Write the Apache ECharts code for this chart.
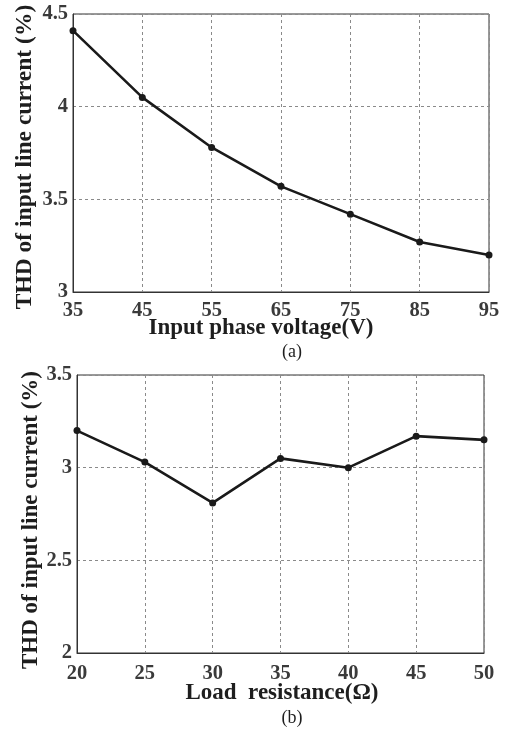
<!DOCTYPE html>
<html>
<head>
<meta charset="utf-8">
<script src="https://cdn.jsdelivr.net/npm/echarts@6/dist/echarts.min.js"></script>
<style>
  html, body { margin: 0; padding: 0; background: #fff; }
  #chart { width: 508px; height: 730px; }
</style>
</head>
<body>
<div id="chart"></div>
<script>
// (a) THD versus input phase voltage
const voltage = [35, 45, 55, 65, 75, 85, 95];
const thdVoltage = [4.41, 4.05, 3.78, 3.57, 3.42, 3.27, 3.20];

// (b) THD versus load resistance
const resistance = [20, 25, 30, 35, 40, 45, 50];
const thdLoad = [3.20, 3.03, 2.81, 3.05, 3.00, 3.17, 3.15];

const FONT = '"Liberation Serif", "Times New Roman", serif';
const tickLabel = { color: '#3a3a3a', fontFamily: FONT, fontWeight: 'bold', fontSize: 20.5 };
const dashed = { show: true, lineStyle: { color: '#8a8a8a', type: [3, 3], width: 1 } };

function xAxisFor(gridIndex, min, max, interval, margin) {
  return {
    gridIndex, type: 'value', min, max, interval,
    axisLine: { show: true, onZero: false, lineStyle: { color: '#333', width: 1 } },
    axisTick: { show: false },
    axisLabel: Object.assign({ margin }, tickLabel),
    splitLine: dashed
  };
}
function yAxisFor(gridIndex, min, max, interval) {
  return {
    gridIndex, type: 'value', min, max, interval,
    axisLine: { show: true, lineStyle: { color: '#333', width: 1 } },
    axisTick: { show: false },
    axisLabel: Object.assign({ margin: 5 }, tickLabel),
    splitLine: dashed
  };
}
const lineSeries = (xi, xs, ys) => ({
  type: 'line', xAxisIndex: xi, yAxisIndex: xi,
  data: xs.map((x, i) => [x, ys[i]]),
  symbol: 'circle', symbolSize: 7,
  lineStyle: { color: '#1a1a1a', width: 2.6 },
  itemStyle: { color: '#1a1a1a' },
  animation: false
});

// axis titles and panel captions
const nameText = (x, y, text, size, rotate) => ({
  type: 'text', x, y, rotation: rotate ? Math.PI / 2 : 0,
  style: {
    text, font: 'bold ' + size + 'px ' + FONT, fill: '#1e1e1e',
    textAlign: 'center', textVerticalAlign: 'middle'
  }
});
const caption = (x, y, text) => ({
  type: 'text', x, y,
  style: { text, font: '18px ' + FONT, fill: '#1e1e1e', textAlign: 'center', textVerticalAlign: 'middle' }
});

const chart = echarts.init(document.getElementById('chart'), null, { renderer: 'canvas' });
chart.setOption({
  backgroundColor: '#fff',
  animation: false,
  grid: [
    { left: 73, top: 14, width: 416, height: 278, show: true, borderColor: '#333', borderWidth: 1 },
    { left: 77, top: 375, width: 407, height: 278, show: true, borderColor: '#333', borderWidth: 1 }
  ],
  xAxis: [xAxisFor(0, 35, 95, 10, 8), xAxisFor(1, 20, 50, 5, 10)],
  yAxis: [yAxisFor(0, 3, 4.5, 0.5), yAxisFor(1, 2, 3.5, 0.5)],
  series: [lineSeries(0, voltage, thdVoltage), lineSeries(1, resistance, thdLoad)],
  graphic: [
    nameText(261, 328, 'Input phase voltage(V)', 23, false),
    nameText(282, 693, 'Load  resistance(\u03A9)', 23, false),
    nameText(25, 157, 'THD of input line current (%)', 23.5, true),
    nameText(31, 520, 'THD of input line current (%)', 23, true),
    caption(292, 352, '(a)'),
    caption(292, 718, '(b)')
  ]
});
</script>
</body>
</html>
